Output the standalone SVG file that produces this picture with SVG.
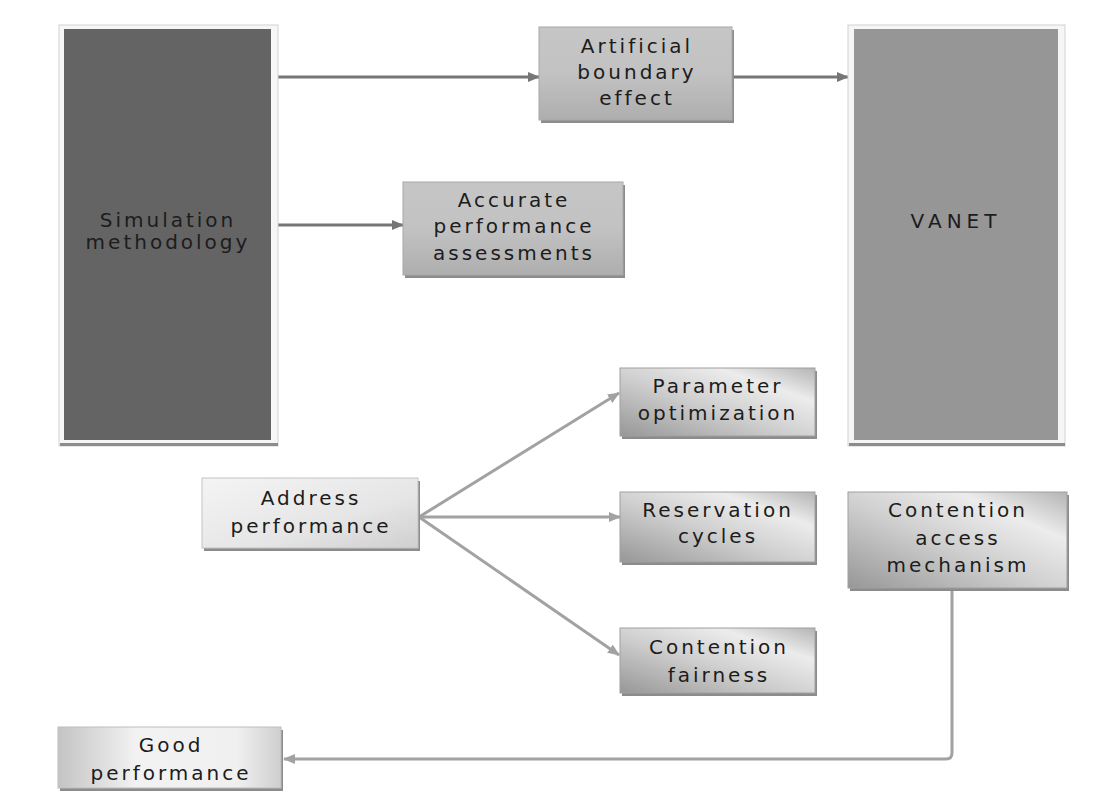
<svg xmlns="http://www.w3.org/2000/svg" width="1100" height="795" viewBox="0 0 1100 795">
<defs>
<style>
text{font-family:"DejaVu Sans","Liberation Sans",sans-serif;font-size:20px;fill:#1c1c1c;text-anchor:middle;letter-spacing:3px}
.frame{fill:#f6f6f6;stroke:#d2d2d2;stroke-width:1}
.shadow{fill:#8c8c8c}
.c-dark{stroke:#767676;stroke-width:3;fill:none}
.c-light{stroke:#a2a2a2;stroke-width:3;fill:none}
</style>
<linearGradient id="gMid" x1="0" y1="0" x2="0" y2="1">
<stop offset="0" stop-color="#c6c6c6"/>
<stop offset="0.5" stop-color="#c2c2c2"/>
<stop offset="1" stop-color="#aeaeae"/>
</linearGradient>
<linearGradient id="gDiag" x1="0" y1="1" x2="1" y2="0">
<stop offset="0" stop-color="#979797"/>
<stop offset="0.45" stop-color="#cfcfcf"/>
<stop offset="0.75" stop-color="#ececec"/>
<stop offset="1" stop-color="#b4b4b4"/>
</linearGradient>
<linearGradient id="gLight" x1="0" y1="0" x2="1" y2="1">
<stop offset="0" stop-color="#f4f4f4"/>
<stop offset="0.6" stop-color="#e6e6e6"/>
<stop offset="1" stop-color="#cfcfcf"/>
</linearGradient>
<linearGradient id="gGood" x1="0" y1="0" x2="1" y2="0">
<stop offset="0" stop-color="#c4c4c4"/>
<stop offset="0.35" stop-color="#f2f2f2"/>
<stop offset="0.8" stop-color="#f0f0f0"/>
<stop offset="1" stop-color="#cfcfcf"/>
</linearGradient>
<marker id="ahD" markerUnits="userSpaceOnUse" markerWidth="12" markerHeight="10" refX="11" refY="5" orient="auto">
<path d="M0,0 L12,5 L0,10 Z" fill="#767676"/>
</marker>
<marker id="ahL" markerUnits="userSpaceOnUse" markerWidth="12" markerHeight="10" refX="11" refY="5" orient="auto">
<path d="M0,0 L12,5 L0,10 Z" fill="#a2a2a2"/>
</marker>
</defs>
<rect width="1100" height="795" fill="#ffffff"/>

<g id="connectors">
<line class="c-dark" x1="276" y1="77" x2="539" y2="77" marker-end="url(#ahD)"/>
<line class="c-dark" x1="733" y1="77" x2="848" y2="77" marker-end="url(#ahD)"/>
<line class="c-dark" x1="276" y1="225" x2="403" y2="225" marker-end="url(#ahD)"/>
<line class="c-light" x1="419" y1="517" x2="619" y2="393" marker-end="url(#ahL)"/>
<line class="c-light" x1="419" y1="517" x2="620" y2="517" marker-end="url(#ahL)"/>
<line class="c-light" x1="419" y1="517" x2="619" y2="655" marker-end="url(#ahL)"/>
<path class="c-light" d="M952,588 L952,753 Q952,759 946,759 L284,759" marker-end="url(#ahL)"/>
</g>

<g id="simulation">
<rect class="frame" x="59" y="25" width="219" height="421"/>
<rect class="shadow" x="60" y="443" width="218" height="3"/>
<rect x="64" y="29" width="207" height="411" fill="#646464"/>
<text x="168" y="227">Simulation</text>
<text x="168" y="249">methodology</text>
</g>

<g id="artificial">
<rect class="shadow" x="541" y="30" width="193" height="93"/>
<rect x="539" y="27" width="193" height="93" fill="url(#gMid)" stroke="#a8a8a8" stroke-width="1"/>
<text x="637" y="53">Artificial</text>
<text x="637" y="79">boundary</text>
<text x="637" y="105">effect</text>
</g>

<g id="vanet">
<rect class="frame" x="848" y="25" width="217" height="421"/>
<rect class="shadow" x="849" y="443" width="216" height="3"/>
<rect x="854" y="29" width="204" height="411" fill="#969696"/>
<text x="956" y="228" style="letter-spacing:5px">VANET</text>
</g>

<g id="accurate">
<rect class="shadow" x="405" y="185" width="220" height="93"/>
<rect x="403" y="182" width="220" height="93" fill="url(#gMid)" stroke="#a8a8a8" stroke-width="1"/>
<text x="514" y="207">Accurate</text>
<text x="514" y="233">performance</text>
<text x="514" y="260">assessments</text>
</g>

<g id="parameter">
<rect class="shadow" x="622" y="371" width="195" height="68"/>
<rect x="620" y="368" width="195" height="68" fill="url(#gDiag)" stroke="#a0a0a0" stroke-width="1"/>
<text x="718" y="393">Parameter</text>
<text x="718" y="420">optimization</text>
</g>

<g id="address">
<rect class="shadow" x="204" y="481" width="216" height="70" fill="#a8a8a8"/>
<rect x="202" y="478" width="216" height="70" fill="url(#gLight)" stroke="#c4c4c4" stroke-width="1"/>
<text x="311" y="505">Address</text>
<text x="311" y="533">performance</text>
</g>

<g id="reservation">
<rect class="shadow" x="622" y="495" width="195" height="70"/>
<rect x="620" y="492" width="195" height="70" fill="url(#gDiag)" stroke="#a0a0a0" stroke-width="1"/>
<text x="718" y="517">Reservation</text>
<text x="718" y="543">cycles</text>
</g>

<g id="contention-access">
<rect class="shadow" x="850" y="495" width="219" height="96"/>
<rect x="848" y="492" width="219" height="96" fill="url(#gDiag)" stroke="#a0a0a0" stroke-width="1"/>
<text x="958" y="517">Contention</text>
<text x="958" y="545">access</text>
<text x="958" y="572">mechanism</text>
</g>

<g id="contention-fairness">
<rect class="shadow" x="622" y="631" width="195" height="65"/>
<rect x="620" y="628" width="195" height="65" fill="url(#gDiag)" stroke="#a0a0a0" stroke-width="1"/>
<text x="719" y="654">Contention</text>
<text x="719" y="682">fairness</text>
</g>

<g id="good">
<rect class="shadow" x="60" y="730" width="223" height="61" fill="#b0b0b0"/>
<rect x="58" y="727" width="223" height="61" fill="url(#gGood)" stroke="#bdbdbd" stroke-width="1"/>
<text x="171" y="752">Good</text>
<text x="171" y="780">performance</text>
</g>
</svg>
